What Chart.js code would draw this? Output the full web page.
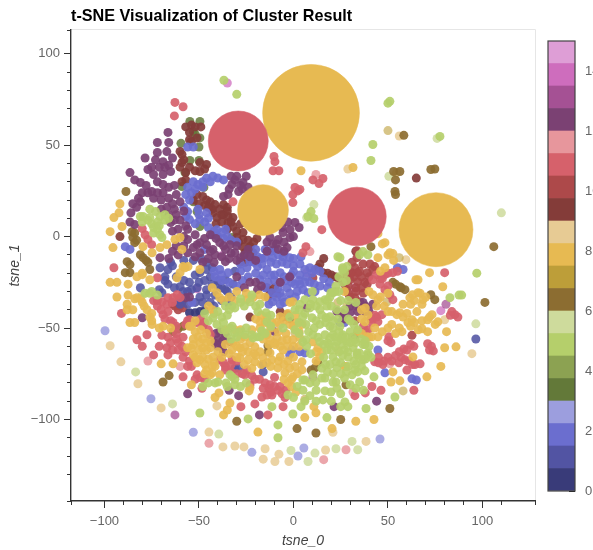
<!DOCTYPE html>
<html><head><meta charset="utf-8">
<script src="https://cdn.jsdelivr.net/npm/chart.js@4"></script>
<style>html,body{margin:0;padding:0;background:#fff;overflow:hidden}
#w{position:relative;width:593px;height:550px}
canvas{position:absolute;left:0;top:0}
#t{position:absolute;left:71px;top:5px;font:bold 16.2px "Liberation Sans",Arial,sans-serif;color:#000;line-height:20px;white-space:nowrap;z-index:3}</style></head>
<body><div id="w"><div id="t">t-SNE Visualization of Cluster Result</div><canvas id="main" width="593" height="550"></canvas><canvas id="bar" width="593" height="550"></canvas></div>
<script>
const discPts=[[-16.1,14.5],[9.3,67.7],[75.4,3.8],[-29.2,52.3],[33.6,11]];
const yellowPts=[[-91.8,18],[-92.3,13],[-95,10.4],[-90.7,5.5],[-97,2.7],[-95.5,-6],[-79.6,-5.5],[-74.8,-8.8],[-70.6,-6],[-67,-4.4],[-62.7,-1.6],[-60,-0.5],[-59,-7],[-58.4,-16.4],[-49.5,-18],[-80,-20],[-97,-25],[-93.4,-25],[-87.5,-26],[-93.4,-33],[-87.5,-32],[-82.8,-22],[-80,-20.8],[-76,-23.6],[-88,-37],[-85,-40],[-82.8,-33.4],[-80,-36],[-77.5,-40],[-76,-44],[-74.8,-48],[-86.5,-47],[-84,-47],[-69,-49],[-70,-69.6],[-63.7,-69.6],[-54,-81],[-60,-19.7],[-57.4,-17],[-61.6,-22.5],[-55.8,-16.4],[-43,-28],[-40.5,-30.7],[-39,-33.4],[-43,-40],[-56,-60.8],[-53,-59],[-49.5,-58],[-52,-52],[-55,-49],[-50.5,-54.8],[-53,-64.7],[-49.5,-67.4],[-46.8,-70],[-51,-69],[-44,-60.8],[-42.6,-65.8],[-48,-65.8],[-41.5,-71],[-44,-75.6],[-39.4,-85.5],[-41.5,-88],[-33.6,-91],[-35,-94.8],[-37,-97.5],[-23.5,-84.4],[-18.8,-106.9],[-43,-74.5],[-39,-75.6],[-24.6,-34.5],[-21.4,-33.4],[-1.8,-36],[-0.3,-35.6],[-14,-43.8],[-17.7,-46.6],[-15,-47],[-11.4,-47],[-7,-43.8],[1.9,-47],[4.5,-48],[-17.7,-50],[-14,-53.7],[-8.7,-55.4],[-3.4,-56.4],[-0.3,-56.4],[3.4,-55.4],[-25.7,-60.3],[-28.3,-60.8],[-23,-58],[-20.4,-60.3],[-17.7,-63],[-12.4,-63.6],[-7,-65.8],[-28.3,-66.3],[-24,-67.4],[-20.4,-68.5],[-16,-66.3],[-11.4,-67.4],[-8.2,-71.8],[-4.5,-74.5],[-0.3,-76.7],[4.5,-68.5],[4.5,-72.9],[0.8,-71],[10.3,-57.5],[13,-60.8],[14,-65.8],[27,-71],[-2.9,-80],[-23,-82.7],[27,-30],[51,-8.8],[52.6,-9.3],[48.4,-17],[44.7,-11.5],[64.8,-23.6],[65.9,-23.6],[72,-19.7],[79,-27.4],[65.9,-30.7],[63,-31.8],[61.6,-33.4],[68.5,-34.5],[68,-37],[73.3,-42.7],[71,-45.5],[76.4,-46.6],[65.3,-41],[56.3,-41.6],[54.7,-42.7],[50,-41],[62.7,-45.5],[60.6,-47],[57.4,-52],[68,-50.4],[71,-52],[81,-52],[80,-60.8],[86,-60.3],[42,-31.8],[44.7,-34.5],[41.5,-54.8],[44.7,-54.8],[38.9,-54.8],[37.8,-46.6],[39.4,-42.7],[63.2,-65.8],[52.6,-74],[51.6,-79.5],[56.3,-78.9],[70.6,-76.7],[78,-71],[27.8,-71],[33,-101],[42.6,-100],[6,-99],[11.9,-96.4],[20.4,-105],[10.8,-93],[1.3,-85],[4,36],[31.5,37.8],[44.7,1.6],[48.4,-3.3],[-36,-59],[-32.5,-62],[-36,-51],[-31,-51],[-28,-51],[-25.7,-55],[-22,-51],[-9.8,-59],[-5.5,-62],[-12.4,-56.4],
[-88,-40],[-84,-34],[-81,-34],[-79,-38],[-75,-46],[-75,-42],[-71,-50],[-65,-50],[-53,-56],[-48,-56],[-46,-58],[-54,-61],[-50,-62],[-46,-62],[-44,-57],[-48,-61],[-45,-67],[-42,-69],[-40,-63],[-38,-66],[-43,-71],[-46,-73],[-47,-75],[-52,-66],[-54,-49],[-52,-46],[-49,-51],[-46,-53],[-20,-45],[-17,-43],[-12,-50],[-9,-47],[-5,-46],[-2,-48],[-8,-52],[-4,-53],[0,-49],[3,-52],[-10,-58],[-7,-60],[-3,-60],[0,-60],[3,-60],[-13,-59],[-16,-56],[-20,-65],[-24,-63],[-27,-63],[-21,-64],[-17,-70],[-14,-69],[-12,-71],[-8,-68],[-5,-70],[-3,-68],[0,-66],[-2,-72],[2,-75],[-1,-78],[-5,-78],[-32,-58],[-30,-60],[-28,-56],[-34,-64],[-30,-66],[-26,-70],[-22,-72],[12,-63],[12,-68],[15,-63],[-6,-57],[-3,-42],[1,-43],[-25,-31],[-30,-30],[-34,-33],[-31,-35],[-37,-35],[-42,-42],[-45,-38],[-15,-33],[-18,-32],[40,-30],[44,-38],[46,-33],[48,-38],[50,-31],[38,-39],[36,-40],[52,-41],[43,-50],[47,-52],[50,-50],[52,-48],[58,-44],[58,-37],[62,-37],[64,-35],[67,-31],[70,-33],[60,-42],[64,-47],[66,-51],[62,-49],[75,-48],[72,-44],[68,-46],[54,-53],[56,-50],[34,-52],[36,-53],[40,-55],[47,-4],[50,-10],[53,-13],[46,-19],[36,-45],[-1,-82]];
const greenPts=[[-76,15],[-73,13.7],[-79.6,11],[-81,11],[-76,10.4],[-70.6,11],[-68,12],[-72,8],[-74,5],[-72,3.8],[-70.6,1],[-69.6,-0.5],[-36.8,85.5],[-30,77.8],[51,74],[50,73],[77.5,54.8],[42,50.4],[41,41.6],[9.3,13.7],[7.7,11],[10.8,9.9],[23.5,-11],[36.8,-8.2],[39.4,-9.9],[35,-9.9],[89,-32],[87.6,-32],[82.8,-33.4],[97,-20],[26,-17],[22.5,-27],[19.8,-30.7],[16.7,-34.5],[-35,-43],[-32.5,-38],[-28,-36],[-23,-35.6],[-17.7,-37],[-14.5,-41.6],[-14,-46.6],[-16.7,-51.5],[-22,-53.7],[-28.3,-52],[-32.5,-49],[-42.6,-44.4],[-40.5,-48],[-37.8,-51],[-33.6,-50],[-17.7,-54.8],[-21.4,-55.4],[-31,-39],[-18.8,-41],[-31,-52.6],[-25.7,-53.7],[-19.3,-54.8],[14,-35.6],[19.3,-33],[22,-30],[10.3,-34.5],[14,-40],[17.7,-38],[19.3,-43.8],[14,-48],[9.8,-44.4],[5,-43.8],[19.3,-49],[24.6,-49],[16.7,-53.7],[20.9,-53.7],[26,-53.7],[30,-52],[34,-51],[18,-58],[23,-57.5],[28.3,-58],[32.5,-56.4],[17.7,-62],[20.9,-65.8],[27,-62],[31.5,-60.8],[33.6,-64.7],[19.3,-70],[23,-71.8],[31,-75.6],[27,-77.3],[6,-78.4],[10.3,-75.6],[15,-77.3],[20.9,-79.5],[34,-74],[-33.6,-75.6],[-31,-81],[32.5,-72.9],[37.8,-73.4],[42.6,-76.7],[35,-79.5],[22.5,-79.5],[16.7,-77.3],[11.9,-79.5],[5,-78.4],[8.7,-80],[16.7,-84.4],[19.8,-85],[8.7,-87],[25,-86],[15.6,-89.3],[4,-93],[27.2,-90.4],[28.8,-93],[38.4,-94],[17.7,-99],[53.7,-87.7],[28.8,-63],[26,-59],[37.8,-59],[39.4,-64.7],[36.8,-67.4],[35,-63.6],[19.8,-62],[22.5,-68.5],[19.3,-55.4],[20.9,-50],[17.2,-44.4],[6.6,-48],[10.3,-53.7],[14,-57.5],[5,-57.5],[-41.5,-80],[-40,-79.5],[-35.7,-80],[-32.5,-76.7],[-28,-82],[-11.4,-93],[-49.5,-96.5],[-24,-99.7],[-8.2,-103],[-8.2,-110],[-0.3,-97],[-76,-31],[-78.5,-31],[26,-54.8],[36.8,-59],[33.6,-63.6],[39.4,-63.6],[24.6,-11.5],[28.3,-16.4],[26,-18],[27,-19.7],[20.9,-30.7],[-5.5,-50],[0.8,-51],[6.6,-56.4],[27,-40],[23.5,-45],[6,-34.5],[3.4,-37],[0.8,-40],[8.7,-39],[-2.9,-86.6],
[3,-40],[6,-42],[9,-37],[12,-38],[15,-43],[12,-46],[17,-47],[21,-46],[24,-52],[22,-55],[25,-56],[28,-55],[31,-55],[30,-58],[33,-58],[36,-56],[38,-57],[40,-60],[41,-66],[38,-67],[35,-67],[32,-68],[29,-66],[26,-65],[24,-63],[22,-60],[19,-59],[16,-59],[13,-55],[11,-50],[8,-52],[3,-53],[7,-60],[9,-64],[16,-66],[17,-70],[25,-69],[29,-71],[33,-70],[36,-71],[28,-74],[25,-75],[21,-75],[18,-74],[15,-72],[23,-83],[30,-81],[37,-84],[33,-83],[12,-84],[5,-84],[6,-90],[2,-82],[0,-88],[12,-90],[20,-90],[25,-93],[-37,-47],[-38,-44],[-34,-40],[-26,-38],[-20,-38],[-12,-43],[-12,-49],[-15,-53],[-25,-50],[-35,-53],[-45,-46],[-47,-42],[-40,-41],[-36,-38],[-30,-55],[-33,-56],[-28,-34],[-22,-32],[-35,-82],[-31,-78],[-25,-80],[-45,-80],[-48,-82],[-75,-30],[-72,-32],[-77,9],[-80,8],[-75,7],[-71,6],[-74,2],[-68,9],[-66,10],[26,-25],[24,-22],[28,-24],[25,-35],[23,-40],[20,-38],[29,-35],[33,-36],[24,-30],[18,-35],[10,-30],[-2,-44],[3,-47],[29,-45],[32,-48],[30,-46]];
const redPts=[[-80,4.4],[-78.5,1],[-77,-1.6],[-75,-4.4],[-62.7,73.4],[-58.4,71],[-63,66],[-10.3,43.8],[-9.8,41],[-10.8,36],[-7.7,36],[0.8,26.9],[-0.3,23],[-0.3,18.6],[-32,19],[-95,-17],[2.4,25],[15.6,31.8],[10.3,31],[13.5,29],[3.4,25.8],[15,3.8],[6.6,-5.5],[5,-8.8],[44,-20.8],[48.4,-20.8],[52.6,-19.7],[42,-23.6],[45.8,-26],[48.4,-29],[51,-31.8],[52.6,-34.5],[80,-19.7],[85.4,-42.7],[83.8,-41],[44,-44],[41.5,-47],[39.4,-51],[44.7,-46.6],[46.8,-42.7],[50.5,-54.8],[51.6,-58],[58.4,-61.4],[56,-63],[63.7,-60],[71,-58.6],[72,-62],[74,-62.5],[45,-69],[43,-68.5],[47.3,-70],[50,-66],[55.8,-69],[59,-67.4],[67,-69.6],[64.3,-70],[60,-73],[41.5,-82],[46.3,-84],[38,-85.5],[32.5,-87],[63.7,-84],[-72,-22.5],[-69.6,-35.6],[-72,-35],[-67,-37],[-69,-42.7],[-66.4,-41],[-63.7,-47],[-91,-42],[-82.8,-56.4],[-77.5,-53.7],[-80,-60],[-69.6,-54],[-66.4,-55],[-71,-60],[-67,-60.8],[-66.4,-64.7],[-74,-64.7],[-58.4,-55],[-61,-58],[-61,-62],[-58.4,-66],[-56,-71],[-58.4,-76.7],[-51,-75.6],[-49.5,-77],[-51,-47],[-48,-49],[-45,-51],[-44,-53.7],[-55,-45.5],[-64,-36],[-66.4,-33.4],[-63.7,-33.4],[-61.6,-31.8],[-60,-33.4],[-48.4,-83],[-24.6,-73],[-25.7,-75.6],[-20.4,-78],[-15,-80],[-11.4,-86.6],[-14,-86.6],[-16.7,-87.7],[-20.4,-91.5],[-8.2,-84],[-4.5,-88],[-5.5,-93],[-13.5,-97.5],[-27.8,-93],[-37,-69],[-36,-71],[-39,-67.4],[-32.5,-67.4],[-10,-77],[-12.4,-81],[-23,-81],
[-72,-38],[-68,-45],[-65,-46],[-62,-49],[-62,-53],[-70,-40],[-74,-35],[-65,-58],[-64,-62],[-62,-56],[-56,-46],[-57,-48],[-49,-45],[-47,-47],[-59,-60],[-57,-63],[-55,-68],[-54,-71],[-47,-78],[-52,-78],[-36,-73],[-33,-70],[-30,-68],[-27,-75],[-22,-76],[-18,-78],[-13,-83],[-10,-82],[-7,-82],[-4,-84],[-16,-83],[-12,-85],[-6,-86],[-30,-75],[-33,-74],[47,-23],[50,-20],[55,-19],[50,-27],[46,-23],[43,-43],[41,-45],[38,-52],[37,-49],[50,-57],[60,-62],[62,-59],[48,-68],[52,-68],[61,-68],[63,-70],[73,-60],[57,-66],[54,-65],[83,-43],[87,-44],[45,-66]];
const purplePts=[[-66.4,57],[-66,51.5],[-72,51.5],[-72,46],[-67,46.5],[-69,41],[-64,43],[-78.5,43],[-77,36.7],[-86.5,35],[-84,31],[-81,29.6],[-74,34],[-72,30],[-69,28.5],[-65,35.6],[-69,34],[-80,24],[-81,19],[-85,18],[-75,24.7],[-74,21],[-69,24],[-66,21],[-67,16],[-60,19],[-63,15],[-86,13],[-86.5,8],[-84,6.6],[-60,9],[-65,7.7],[-61,4],[-52,1],[-56,-1.6],[-51,-4.4],[-46,-4.4],[-56,4],[-42.6,-7],[-49.5,-8.8],[-56,-8.8],[-37,22],[-34.6,23],[-30,33],[-32.5,28.5],[-26.7,29.6],[-29,24.7],[-31,31],[0.8,7.7],[-1.8,3.8],[-5.5,2.2],[-1.8,-0.5],[-8,-1.6],[-12.4,-0.5],[-3.4,-6],[-8,-7],[-31,-8.8],[-23,-25],[-19,-29],[-7,-25],[-2,-22],[-10,-52],[-33.6,-57.5],[25.6,-41.6],[30,-41.6],[34,-41],[7,-39],[36.8,-36],[42,-37],[26,-42.7],[37.8,-41],[32.5,-54.8],[-80,-44.4],[-40,-56.4],[-37,-56.4],[-38,-60],[-36,-53.7],[-55,-33],[-57,-33.4],[-56,-86],[-34,-84],[-29,-87],[-18,-97.5],[21.5,-93],[44,-90],[-44,1],[-39,-3.3],[-33.6,-4.4],[-28,-11.5],[-24,-7],[-36,-13.7],[-41.5,-9.9],[-49.5,-3.3],[-70.6,-11.5],[-36,-7],
[-62,12],[-57,6],[-64,3],[-58,0],[-53,-6],[-47,-1],[-44,-8],[-41,-1],[-37,-5],[-33,-9],[-30,-5],[-26,-10],[-23,-11],[-20,-13],[-38,-11],[-34,-12],[-30,-13],[-45,-12],[-42,-14],[-48,-14],[-52,-11],[-58,-5],[-62,-5],[-64,-8],[-61,-10],[-66,-12],[-72,24],[-77,24],[-82,21],[-83,16],[-78,28],[-75,38],[-71,38],[-68,38],[-73,42],[-66,39],[-63,28],[-66,27],[-70,20],[-64,18],[-62,23],[-58,14],[-70,15],[-66,12],[-63,9],[-28,28],[-34,26],[-33,33],[-27,26],[-25,33],[-24,27],[-6,5],[-3,8],[-9,-4],[-5,-3],[-11,-4],[-14,-3],[-5,-8],[0,0],[3,5],[-14,-8],[-38,-58],[-41,-53],[-39,-52],[-42,-58],[-37,-63],[-40,-60],[30,-38],[38,-38],[40,-41],[33,-38],[23,-41],[27,-45],[-20,-25],[-17,-27],[-26,-28],[-30,-22]];
const bluePts=[[-53,49],[-56,49],[-50.5,28.5],[-53,30],[-56,27],[-57,23],[-42.6,33],[-37,31],[-46,32],[-50.5,15],[-56,13.7],[-55,9.3],[-46,13],[-49.5,9.3],[-40.5,3.8],[-38,2.2],[-35,0],[-89,-5.5],[-86.5,-7],[-15,-7],[-19,-11],[-11,-11.5],[-5.5,-11],[-9,-15],[-3.4,-15],[3.4,-15],[-14,-18],[-19,-16.4],[-24.6,-17],[-28,-19],[-7,-19.7],[0,-19],[7,-22],[-7,-30.7],[-3.4,-28],[-11,-35.6],[-7,-37],[-11.4,-30.7],[2,-30],[7.7,-30.7],[27,-47],[24.6,-47],[-1,-62],[3.4,-63],[6,-63.6],[-2,-64.7],[-39,-18],[-34.6,-19.7],[-41.5,-22],[-53.7,-36],[55,-17],[58,-18],[44.7,-62],[48.4,-74.5],[62.7,-77.8],[65,-78.4],[-17.7,-23.6],[-13.5,-25],[-10,-21],[-15,-11.5],[-2,-11.5],[3.4,-21],[-28,-15],[-2,-34.5],[-16.7,-15],[-10,-7],[0.8,-26],[8.7,-17],[11.4,-18],[14,-19],[-23,-13.7],[3.4,-26],[8.7,-25],[14,-27],[18,-28],[11.4,-30],
[-12,-8],[-8,-10],[-5,-9],[0,-12],[4,-11],[-20,-7],[-24,-11],[-21,-14],[-17,-12],[-12,-14],[-6,-14],[0,-16],[6,-18],[10,-20],[-1,-21],[-5,-22],[-12,-21],[-16,-21],[-20,-20],[-24,-22],[-7,-25],[-10,-24],[-4,-24],[-1,-25],[3,-24],[6,-25],[-15,-28],[-8,-28],[-6,-33],[-2,-31],[-9,-33],[-13,-37],[-5,-36],[1,-33],[5,-29],[11,-26],[16,-23],[19,-25],[-27,-24],[-30,-27],[-34,-25],[-38,-21],[-42,-19],[-38,-24],[-47,-7],[-52,7],[-47,8],[-57,11],[-50,12],[-45,10],[-58,16],[-52,26],[-54,24],[-48,30],[-44,30],[-40,32],[-48,27],[-43,1],[-45,5],[-37,-1],[-33,-2],[-30,-3],[-40,0],[-42,3],[-36,4],[-55,20]];
const darkBluePts=[[-70.6,-17],[-66.4,-18],[-81,-28],[-71,-29],[-69.6,-30.7],[-60,-27.4],[-58.4,-30],[-66.4,-26],[-56,-30],[-49.5,-33],[-48,-36],[-46,-29],[-51,-28],[-49.5,-19.7],[-46,-14],[-44,-36],[-41.5,-32],[-36,-23.6],[-31,-19],[-60,-34.5],[-52,-21],[-65,-14],[-16,-74],[-31,-72],[-29,-72],[-16,-70],[96.5,-56],[-68,-22],[-62,-22],[-58,-24],[-55,-25],[-54,-29],[-50,-25],[-47,-24],[-44,-22],[-43,-26],[-40,-27],[-38,-28],[-35,-30],[-32,-26],[-46,-32],[-52,-36],[-56,-37],[-60,-37],[-68,-24],[-63,-28],[-64,-16],[-58,-13],[-53,-13],[-49,-12],[-43,-17],[-46,-18],[-40,-24],[-36,-29],[-33,-33],[-38,-35],[-42,-38],[-34,-37]];
const navyPts=[[-52,-41.6],[-49.5,-41],[-55,-41.6],[-47,-40.5]];
const darkRedPts=[[-59,45],[-59,40.5],[-49.5,40.5],[-46,39.5],[-49.5,35.6],[-57,31],[-59,30],[-55,57],[-51,54],[-60,46.6],[-54,61],[-53,20],[-48,22],[-44,19],[-41.5,17.5],[-39,15],[-37,12],[-42.6,13],[-40.5,10.4],[-34.6,7.7],[-37,17.5],[-34.6,11],[-91.8,0],[-32,10.4],[-32,5.5],[-26.7,2.2],[-30,-0.5],[-26.7,-1.6],[-19.3,-1],[-23,-5.5],[-21.4,-8.8],[-27,-5.5],[-25.6,-8.8],[33,-8],[14,-15],[15.6,-19.7],[22,-22],[-12.4,-30],[-13.5,-33],[-10,-28],[-3.4,-42.7],[-5.5,-44],[-28,-14],[-25.6,-14],[65,32],[-23,-44],
[-51,23],[-46,20],[-43,15],[-47,17],[-50,18],[-38,12],[-35,14],[-41,7],[-38,8],[-33,8],[-30,3],[-28,7],[-35,4],[-29,-3],[-24,-2],[-21,-3],[-25,-11],[-22,-12],[-58,42],[-60,38],[-55,38],[-52,36],[-47,37],[-57,35],[-55,53],[-49,60],[-52,60],[-57,60],[-54,52],[-35,16],[16,-12],[13,-17],[18,-20],[20,-21],[24,-23],[-9,-31],[-14,-28],[-2,-45],[-7,-41],[-45,16]];
const crimsonPts=[[32.5,-17],[36.8,-15],[40.5,-15],[43,-16.4],[31,-19.7],[34,-19.7],[39,-19.7],[30,-23.6],[34,-24.7],[37.8,-25],[32.5,-33.4],[30,-33],[35,-35.6],[33.6,-11.5],[33.6,-7.7],[27,-26],[32.5,-46],[62.7,-54],[-62.7,-38],[-60,-38],[-61,-40],[-58.4,-39],[10.3,-22.5],[29,-27],[32,-22],[36,-22],[40,-22],[29,-31],[33,-28],[36,-28],[30,-20],[27,-22],[31,-14],[35,-19],[42,-18],[37,-31],[33,-30],[28,-29],[39,-26],[-64,-37],[-59,-36]];
const brownPts=[[-88.6,24.7],[-85.4,2.7],[-85,-0.5],[-84,-3.3],[-88,-13.7],[-86.5,-15.3],[-89,-19.7],[-86.5,-19.7],[-81,-9.9],[-79.6,-11.5],[-77,-14],[-76,-18],[-63.7,-52],[-61,-50.4],[-58.4,-49],[-69,-79.5],[-65.8,-76],[58.4,55.4],[53,35.6],[56.3,35.6],[54,31],[74.8,37],[72.7,36.7],[53.7,24.7],[54,23],[106,-5.5],[41,-5.5],[52.6,-25],[56.3,-27.4],[59,-29],[74.8,-34.5],[72.7,-31.8],[101.3,-36],[27.8,-81],[51,-94],[25,-100],[11.9,-107.4],[1.9,-105],[11.4,-71.8],[13,-69],[9.3,-73],[-30,-101],[-13.5,-63],[-13.5,-59.7],[-84,2],[-83,-2],[54,-26],[57,-28],[-78,-13]];
const darkGreenPts=[[-49.5,63],[-54.8,63],[-49.5,54],[-53,57.5],[-59.5,51],[-54.8,41.6],[-50,41.6],[-57.4,35],[-59,27.4],[-47.4,26.9],[-53,19],[-51,13.7],[-49.5,5.5],[-32.5,-0.5],[-23,-5.5],[-52,56],[-50,49]];
const olivePts=[[6,-89],[23.5,-36],[28.3,-38],[0.8,-52.6],[-7,-48],[-13.5,-52.6],[23.5,-62],[58,-84.4],[56,-11.5],[49.5,-35.6],[50,58],[54.5,35]];
const paleYellowPts=[[-97,-59.7],[-91.3,-68.5],[-82.3,-80.5],[-70,-93.7],[-40.5,-92.6],[-44.7,-106.9],[-37.3,-115],[-31,-114.5],[-26.2,-115],[-15,-116],[-16,-121.7],[-7.7,-119],[-9.8,-123],[-2.4,-123],[17,-116.7],[38.4,-112],[94.4,-64],[80,-45.5],[20.9,-107],[28.8,37],[56,55],[59.5,-12.6]];
const lilacPts=[[-99.7,-51.5],[-75.4,-88.7],[-53,-107],[-22,-118],[2.4,-120],[5.5,-115.6],[45.8,-110.7]];
const paleGreenPts=[[-83.5,-74],[-64,-91.5],[-39.5,-108],[-1.3,-117],[11.4,-118.4],[7.7,-123],[22.5,-116],[34,-116.6],[31,-112],[96.5,-47.7],[110,13],[10.8,17.5],[7,10.4],[76,53.7],[50.5,33],[-80,-32]];
const pinkPts=[[-44.7,-113],[-77,-68],[-60,-71],[16,-122],[27.8,-116.6],[51,-69.6],[11.9,34],[8.7,-8.2],[31.5,-85]];
const plumPts=[[80.7,-37],[-62.7,-97.5],[10.3,-77]];
const orchidPts=[[78,-40.5],[-35,84],[-51,-28.5],[7,-19.7],[32.6,-28],[-38,-10.4]];

const tab20b=['#393b79','#5254a3','#6b6ecf','#9c9ede','#637939','#8ca252','#b5cf6b','#cedb9c','#8c6d31','#bd9e39','#e7ba52','#e7cb94','#843c39','#ad494a','#d6616b','#e7969c','#7b4173','#a55194','#ce6dbd','#de9ed6'];
const bandEdges=[0,0.75,1.5,2.25,3,3.75,4.5,5.25,6,6.75,7.5,8.25,9,9.75,10.5,11.25,12,12.75,13.5,14.25,15];
const xTickVals=[-100,-50,0,50,100];
const yTickVals=[-100,-50,0,50,100];
const barTicks=[0,2,4,6,8,10,12,14];
const X_RANGE=[-117.7,127.8], Y_RANGE=[-144.6,113];

Chart.ScatterController.prototype.getMaxOverflow=function(){return 0};
const hexA=(h,a)=>{const n=parseInt(h.slice(1),16);return `rgba(${n>>16},${(n>>8)&255},${n&255},${a})`};
const pts=a=>a.map(p=>({x:p[0],y:p[1]}));
const ds=(a,c,al,r)=>({data:pts(a),backgroundColor:hexA(c,al),borderColor:hexA(c,al),borderWidth:0,pointRadius:r||4.5,pointHoverRadius:r||4.5});
const discRadius=[25.4,48.4,37,30,29.3];
const discColor=['#e7ba52','#e7ba52','#e7ba52','#d6616b','#d6616b'];

const labelFont={family:'"Liberation Sans",Arial,sans-serif',size:13};
const minus=v=>String(v).replace('-','\u2212');
const outline={id:'outline',beforeDraw(c){const a=c.chartArea,g=c.ctx;g.save();g.strokeStyle='#e6e6e6';g.lineWidth=1;g.beginPath();g.moveTo(a.left,a.top-0.5);g.lineTo(a.right+0.5,a.top-0.5);g.lineTo(a.right+0.5,a.bottom);g.stroke();g.restore();}};

new Chart(document.getElementById('main'),{
 type:'scatter',
 plugins:[outline],
 data:{datasets:[
  {data:pts(discPts),backgroundColor:discColor,borderColor:discColor.map(c=>hexA(c,0.55)),borderWidth:1,pointRadius:discRadius,pointHoverRadius:discRadius},
  ds(greenPts,'#b5cf6b',.92),
  ds(yellowPts,'#e7ba52',.92),
  ds(redPts,'#d6616b',.92),
  ds(purplePts,'#7b4173',.92),
  ds(bluePts,'#6b6ecf',.92),
  ds(darkBluePts,'#5254a3',.88),
  ds(navyPts,'#393b79',.92),
  ds(crimsonPts,'#ad494a',.92),
  ds(darkRedPts,'#843c39',.92),
  ds(brownPts,'#8c6d31',.92),
  ds(darkGreenPts,'#637939',.85),
  ds(olivePts,'#bd9e39',.6),
  ds(paleYellowPts,'#e7cb94',.85),
  ds(lilacPts,'#9c9ede',.85),
  ds(paleGreenPts,'#cedb9c',.85),
  ds(pinkPts,'#e7969c',.85),
  ds(plumPts,'#a55194',.75),
  ds(orchidPts,'#ce6dbd',.75)
 ]},
 options:{
  responsive:false,animation:false,events:[],
  layout:{padding:{left:0,right:58,top:30,bottom:0}},
  plugins:{legend:{display:false},tooltip:{enabled:false}},
  scales:{
   x:{type:'linear',position:'bottom',weight:1,min:X_RANGE[0],max:X_RANGE[1],
     afterBuildTicks:s=>{s.ticks=xTickVals.map(v=>({value:v}))},
     afterFit:s=>{s.height=49},
     border:{color:'#333',width:1.4},
     grid:{drawOnChartArea:false,tickLength:7,tickColor:'#333',tickWidth:1},
     ticks:{color:'#666',font:labelFont,padding:6,maxRotation:0,autoSkip:false,callback:minus},
     title:{display:true,text:'tsne_0',color:'#444',font:{family:'"Liberation Sans",Arial,sans-serif',size:14,style:'italic'},padding:{top:6,bottom:0}}},
   xMinor:{axis:'x',type:'linear',position:'bottom',weight:0,min:X_RANGE[0],max:X_RANGE[1],
     afterFit:s=>{s.height=0},
     border:{display:false},
     grid:{drawOnChartArea:false,tickLength:4,tickColor:'#333',tickWidth:1},
     ticks:{stepSize:10,autoSkip:false,maxRotation:0,callback:()=>''}},
   y:{type:'linear',position:'left',weight:1,min:Y_RANGE[0],max:Y_RANGE[1],
     afterBuildTicks:s=>{s.ticks=yTickVals.map(v=>({value:v}))},
     afterFit:s=>{s.width=71},
     border:{color:'#333',width:1.4},
     grid:{drawOnChartArea:false,tickLength:7,tickColor:'#333',tickWidth:1},
     ticks:{color:'#666',font:labelFont,padding:4,autoSkip:false,callback:minus},
     title:{display:true,text:'tsne_1',color:'#444',font:{family:'"Liberation Sans",Arial,sans-serif',size:14,style:'italic'},padding:{top:7,bottom:0}}},
   yMinor:{axis:'y',type:'linear',position:'left',weight:0,min:Y_RANGE[0],max:Y_RANGE[1],
     afterFit:s=>{s.width=0},
     border:{display:false},
     grid:{drawOnChartArea:false,tickLength:4,tickColor:'#333',tickWidth:1},
     ticks:{stepSize:10,autoSkip:false,callback:()=>''}}
  }
 }
});

const frame={id:'frame',afterDraw(c){const a=c.chartArea,g=c.ctx;g.save();g.strokeStyle='#444';g.lineWidth=1.2;g.strokeRect(a.left,a.top,a.right-a.left,a.bottom-a.top);g.restore();}};
new Chart(document.getElementById('bar'),{
 type:'bar',
 plugins:[frame],
 data:{labels:[''],datasets:tab20b.map((c,i)=>({data:[[bandEdges[i],bandEdges[i+1]]],backgroundColor:c,borderWidth:0,categoryPercentage:1,barPercentage:1,grouped:false}))},
 options:{
  responsive:false,animation:false,events:[],
  layout:{padding:{left:548,right:0,top:41,bottom:59}},
  plugins:{legend:{display:false},tooltip:{enabled:false}},
  scales:{
   x:{display:false,stacked:false},
   y:{type:'linear',position:'right',min:0,max:15,
     afterBuildTicks:s=>{s.ticks=barTicks.map(v=>({value:v}))},
     afterFit:s=>{s.width=18},
     border:{display:false},
     grid:{drawOnChartArea:false,tickLength:-6,tickColor:'#111',tickWidth:1},
     ticks:{color:'#666',font:labelFont,padding:16,autoSkip:false}}
  }
 }
});
</script></body></html>
